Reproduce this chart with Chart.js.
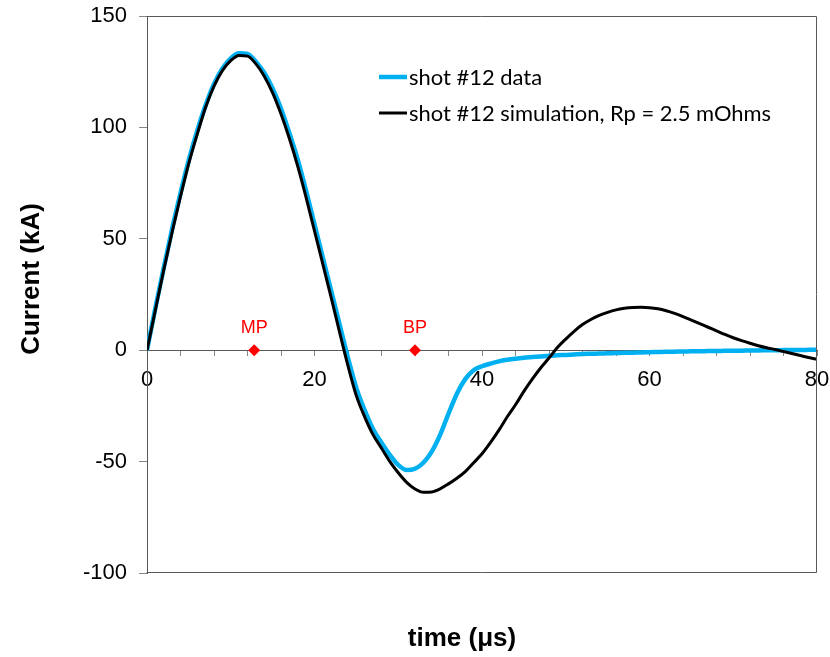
<!DOCTYPE html>
<html><head><meta charset="utf-8">
<script src="https://cdn.jsdelivr.net/npm/chart.js@4.4.1/dist/chart.umd.min.js"></script>
<style>html,body{margin:0;padding:0;background:#fff}canvas{display:block}</style>
</head><body>
<canvas id="c" width="830" height="657"></canvas>
<script>
// time (µs)
const times = [0,1,2,3,4,5,6,7,8,9,10,11,12,13,14,15,16,17,18,19,20,21,22,23,24,25,26,27,28,29,30,31,32,33,34,35,36,37,38,39,40,41,42,43,44,45,46,47,48,49,50,51,52,53,54,55,56,57,58,59,60,61,62,63,64,65,66,67,68,69,70,71,72,73,74,75,76,77,78,79,80];
// shot #12 data (kA)
const shotData = [0,19,37,54.5,70.5,85.5,98.5,110,119.5,126.5,131,133.3,133,129.5,124.5,117.5,108.5,97.5,85.5,71.5,56.5,41.5,26.5,11.5,-3.5,-17,-27,-35.5,-41.5,-47,-51.5,-53.8,-53.2,-50.5,-45.5,-38,-28.5,-19.5,-13,-9,-7.2,-6,-5,-4.3,-3.8,-3.4,-3.1,-2.8,-2.5,-2.3,-2.1,-1.9,-1.7,-1.6,-1.5,-1.4,-1.3,-1.2,-1.1,-1.0,-0.9,-0.8,-0.7,-0.65,-0.6,-0.5,-0.45,-0.4,-0.35,-0.3,-0.25,-0.2,-0.15,-0.1,-0.05,0,0.05,0.1,0.1,0.15,0.2];
// shot #12 simulation, Rp = 2.5 mOhms (kA)
const simData = [0,18,36,53,69,84,97,109,118.5,125.5,130,132.3,132,128.5,123,115.5,106,95,82.5,68.5,53.5,38.5,23.5,8,-7,-20.5,-30,-38,-44,-50,-55,-59.3,-62.3,-63.8,-63.6,-62.2,-60,-57.5,-54.5,-50.5,-46.5,-41.5,-36,-30,-24.5,-18.5,-13,-8,-3.5,1.2,5,8.5,11.5,13.8,15.6,17,18.1,18.8,19.2,19.3,19.1,18.6,17.7,16.5,15.1,13.5,11.9,10.3,8.7,7.1,5.6,4.3,3.1,2.0,1.1,0.3,-0.6,-1.5,-2.4,-3.3,-4.1];
// event markers
const markerTimes = [12.8, 32.0];
const markerValues = [0, 0];
const markerLabels = ['MP', 'BP'];
const seriesLabels = ['shot #12 data', 'shot #12 simulation, Rp = 2.5 mOhms'];
const xTickLabels = [0, 20, 40, 60, 80];
const yTickLabels = [-100, -50, 0, 50, 100, 150];
const xTitle = 'time (\u03bcs)';
const yTitle = 'Current (kA)';

const toXY = (xs, ys) => xs.map((x, i) => ({x: x, y: ys[i]}));
const FONT = "'Liberation Sans', Arial, sans-serif";

const deco = {
  id: 'deco',
  afterDraw(chart) {
    const ctx = chart.ctx, a = chart.chartArea;
    ctx.save();
    // plot frame
    ctx.strokeStyle = '#595959';
    ctx.lineWidth = 1;
    ctx.beginPath();
    const L = Math.round(a.left) - 0.5, R = Math.round(a.right) - 0.5;
    const T = Math.round(a.top) + 0.5, B = Math.round(a.bottom) - 0.5;
    ctx.moveTo(L, T); ctx.lineTo(R, T); ctx.lineTo(R, B); ctx.lineTo(L, B);
    ctx.stroke();
    // marker labels
    const mm = chart.getDatasetMeta(0);
    ctx.fillStyle = '#ff0000';
    ctx.font = '18px ' + FONT;
    ctx.textAlign = 'center';
    ctx.textBaseline = 'middle';
    mm.data.forEach((el, i) => ctx.fillText(markerLabels[i], el.x, el.y - 22));
    // legend
    const entries = [
      {label: seriesLabels[0], ds: chart.data.datasets[2]},
      {label: seriesLabels[1], ds: chart.data.datasets[1]}
    ];
    ctx.font = '20px Lato, sans-serif';
    const w = ctx.measureText(seriesLabels[1]).width;
    const fs = 20 * 362 / w;
    ctx.font = fs.toFixed(2) + 'px Lato, sans-serif';
    ctx.textAlign = 'left';
    ctx.fillStyle = '#000';
    const rows = [77, 113];
    entries.forEach((e, i) => {
      ctx.strokeStyle = e.ds.borderColor;
      ctx.lineWidth = e.ds.borderWidth;
      ctx.beginPath();
      ctx.moveTo(379, rows[i]); ctx.lineTo(407, rows[i]);
      ctx.stroke();
      ctx.fillText(e.label, 409, rows[i] + 1);
    });
    // axis titles
    ctx.font = 'bold 26px ' + FONT;
    ctx.textAlign = 'center';
    ctx.textBaseline = 'middle';
    ctx.fillText(xTitle, 462, 639);
    ctx.translate(32, 279);
    ctx.rotate(-Math.PI / 2);
    ctx.fillText(yTitle, 0, 0);
    ctx.restore();
  }
};

new Chart(document.getElementById('c'), {
  type: 'line',
  data: {
    datasets: [
      {
        label: 'markers',
        data: toXY(markerTimes, markerValues),
        showLine: false,
        pointStyle: 'rectRot',
        pointRadius: 6,
        backgroundColor: '#ff0000',
        borderColor: '#ff0000',
        borderWidth: 0
      },
      {
        label: seriesLabels[1],
        data: toXY(times, simData),
        borderColor: '#000000',
        borderWidth: 3,
        pointRadius: 0,
        cubicInterpolationMode: 'monotone',
        fill: false
      },
      {
        label: seriesLabels[0],
        data: toXY(times, shotData),
        borderColor: '#00b0f0',
        borderWidth: 4.5,
        pointRadius: 0,
        cubicInterpolationMode: 'monotone',
        fill: false
      }
    ]
  },
  options: {
    responsive: false,
    animation: false,
    events: [],
    layout: {autoPadding: false, padding: {left: 0, top: 16, right: 13, bottom: 84}},
    plugins: {legend: {display: false}, tooltip: {enabled: false}},
    scales: {
      x: {
        type: 'linear',
        position: {y: 0},
        min: 0, max: 80,
        afterFit: s => { s.height = 0; s.paddingRight = 0; s.paddingLeft = 0; },
        ticks: {
          stepSize: 4, autoSkip: false, maxRotation: 0, padding: 12,
          color: '#000', font: {family: FONT, size: 22},
          callback: v => xTickLabels.includes(v) ? String(v) : ''
        },
        grid: {drawOnChartArea: false, drawTicks: true, tickLength: 5, color: '#868686'},
        border: {display: true, color: '#595959', width: 1}
      },
      y: {
        type: 'linear',
        min: -100, max: 150,
        afterFit: s => { s.width = 147; s.paddingTop = 0; s.paddingBottom = 0; },
        afterBuildTicks: s => { s.ticks = yTickLabels.map(v => ({value: v})); },
        ticks: {
          padding: 12,
          color: '#000', font: {family: FONT, size: 22},
          callback: v => String(v)
        },
        grid: {drawOnChartArea: false, drawTicks: true, tickLength: 8, color: '#868686'},
        border: {display: true, color: '#595959', width: 1}
      }
    }
  },
  plugins: [deco]
});
</script>
</body></html>
